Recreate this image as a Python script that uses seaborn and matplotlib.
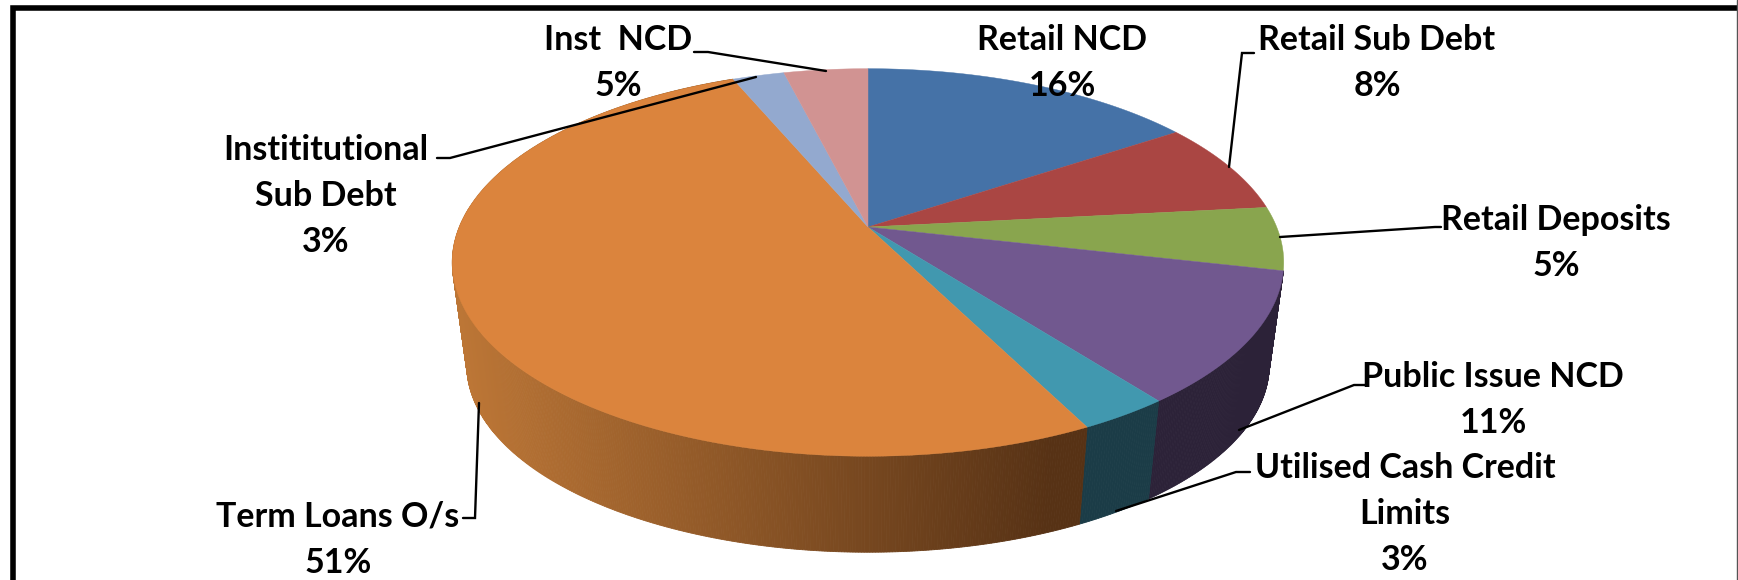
import numpy as np
import matplotlib
matplotlib.use("Agg")
import matplotlib.pyplot as plt
import seaborn as sns

names = ["Retail NCD", "Retail Sub Debt", "Retail Deposits", "Public Issue NCD",
         "Utilised Cash Credit\nLimits", "Term Loans O/s", "Instititutional\nSub Debt", "Inst  NCD"]
shares = [15.6, 7.7, 5.3, 11.0, 3.0, 51.1, 2.4, 3.9]
pct_labels = ["16%", "8%", "5%", "11%", "3%", "51%", "3%", "5%"]
colors = ["#4572A7", "#AA4643", "#89A54E", "#71588F", "#4198AF", "#DB843D", "#93A9CF", "#D19392"]

sns.set_theme(style="white")
plt.rcParams["font.family"] = ["Lato", "DejaVu Sans"]
palette = sns.color_palette(colors)

# pie layout in image pixels, perspective squeezes the back of the disc
cx, cy = 868, 227
a, b, c = 187.3, 408.7, 0.183
drop, shrink = 104, 0.965


def project(theta, lower=False):
    u = np.cos(np.radians(theta))
    v = np.sin(np.radians(theta))
    k = 1 + c * v
    x, y = b * u / k, a * v / k
    if lower:
        return cx + shrink * x, cy - shrink * y + drop
    return cx + x, cy - y


fig = plt.figure(figsize=(17.38, 5.8), dpi=100)
ax = fig.add_axes([0, 0, 1, 1])

# the pie works out the slice angles, its flat wedges get redrawn tilted
wedges, _ = ax.pie(shares, startangle=90, counterclock=False, colors=palette)
ax.set_aspect("auto")
ax.set_xlim(0, 1738)
ax.set_ylim(580, 0)
ax.axis("off")

wall_flat = {3: "#2C2238", 4: "#1B3C47"}
orange_left = np.array(matplotlib.colors.to_rgb("#BC7636"))
orange_right = np.array(matplotlib.colors.to_rgb("#573215"))
xl, xr = cx - b, cx + b * 0.45

for i, w in enumerate(wedges):
    w.set_visible(False)
    if i not in (3, 4, 5):
        continue
    steps = np.linspace(w.theta1, w.theta2, int(abs(w.theta2 - w.theta1)) * 3 + 2)
    for t0, t1 in zip(steps[:-1], steps[1:]):
        x0, y0 = project(t0)
        x1, y1 = project(t1)
        x2, y2 = project(t1, lower=True)
        x3, y3 = project(t0, lower=True)
        if i == 5:
            f = np.clip((0.5 * (x0 + x1) - xl) / (xr - xl), 0, 1)
            col = orange_left + (orange_right - orange_left) * f
        else:
            col = wall_flat[i]
        ax.fill([x0, x1, x2, x3], [y0, y1, y2, y3], color=col, lw=0.6)

for w, col in zip(wedges, palette):
    steps = np.linspace(w.theta1, w.theta2, 120)
    px, py = project(steps)
    ax.fill(np.r_[cx, px], np.r_[cy, py], color=col, lw=0.3)

# labels and leader lines
label_xy = [(1062, 63), (1377, 63), (1556, 243), (1493, 400), (1405, 514),
            (338, 540), (326, 196), (618, 63)]
leaders = [None,
           [(1254, 53), (1242, 53), (1229, 167)],
           [(1280, 237), (1435, 227), (1441, 227)],
           [(1239, 430), (1354, 385), (1365, 385)],
           [(1116, 511), (1236, 472), (1250, 472)],
           [(463, 518), (475, 518), (479, 403)],
           [(437, 158), (450, 158), (756, 77)],
           [(694, 52), (708, 52), (826, 71)]]

for name, pct, (tx, ty), line in zip(names, pct_labels, label_xy, leaders):
    if line is not None:
        lx, ly = zip(*line)
        ax.plot(lx, ly, color="black", lw=1.7, solid_joinstyle="miter")
    ax.text(tx, ty, name + "\n" + pct, ha="center", va="center", fontsize=24.5,
            fontweight="bold", color="black", linespacing=1.55)

# thick frame left and top, thin on the right
ax.plot([12.5, 12.5, 1738], [580, 7.5, 7.5], color="black", lw=4, solid_joinstyle="miter", clip_on=False)
ax.plot([1737, 1737], [0, 580], color="#555555", lw=1)

fig.savefig("out.png", dpi=100)
